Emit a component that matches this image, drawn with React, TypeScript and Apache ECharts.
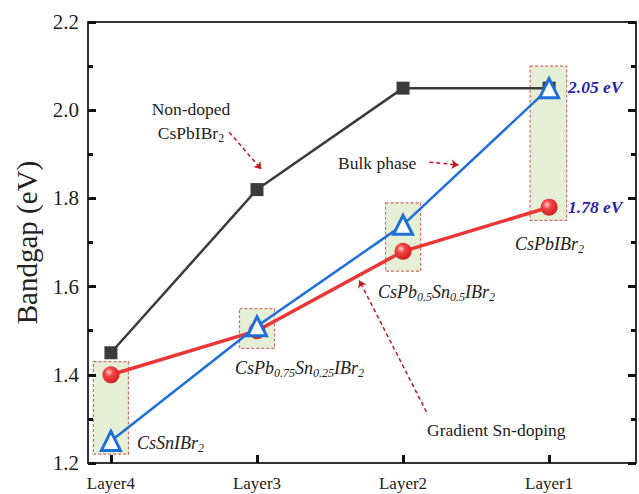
import React, { useEffect, useRef } from "react";
import * as echarts from "echarts";

const layers = ["Layer4", "Layer3", "Layer2", "Layer1"];
const layerPos = [0, 1, 2, 3];
const nonDoped = [1.45, 1.82, 2.05, 2.05];
const gradientDoped = [1.4, 1.5, 1.68, 1.78];
const bulkPhase = [1.25, 1.51, 1.74, 2.05];
const yTicks = [1.2, 1.4, 1.6, 1.8, 2.0, 2.2];

// highlight boxes around doped compositions: [x0, y0, x1, y1] in data units
const boxes = [
  [-0.12, 1.22, 0.12, 1.43],
  [0.88, 1.46, 1.12, 1.55],
  [1.88, 1.635, 2.12, 1.79],
  [2.87, 1.75, 3.12, 2.1],
];
// dashed annotation arrows: [x0, y0, x1, y1] in data units
const arrows = [
  [0.81, 1.95, 1.03, 1.866],
  [2.18, 1.882, 2.38, 1.876],
  [2.16, 1.316, 1.7, 1.614],
];

const SERIF = "Liberation Serif";

export default function App() {
  const ref = useRef<HTMLDivElement>(null);
  useEffect(() => {
    document.body.style.margin = "0";
    const chart = echarts.init(ref.current!, null, { renderer: "svg" });
    const richStyle = {
      a: { fontFamily: SERIF, fontSize: 18, fontStyle: "italic", fill: "#222" },
      s: { fontFamily: SERIF, fontSize: 12, fontStyle: "italic", fill: "#222", padding: [10, 0, 0, 0] },
      n: { fontFamily: SERIF, fontSize: 17.5, fill: "#222" },
      ns: { fontFamily: SERIF, fontSize: 12, fill: "#222", padding: [10, 0, 0, 0] },
    };
    const txt = (x: number, y: number, text: string, align = "left") => ({
      type: "text",
      x,
      y,
      style: { text, align, verticalAlign: "middle", fontFamily: SERIF, fontSize: 17.5, fill: "#222", rich: richStyle },
      z: 100,
    });
    const evStyle = (x: number, y: number, text: string) => ({
      type: "text",
      x,
      y,
      style: {
        text,
        fontFamily: SERIF,
        fontSize: 17.5,
        fontStyle: "italic",
        fontWeight: "bold",
        fill: "#2b22b0",
        verticalAlign: "middle",
      },
      z: 100,
    });
    const commonAxisLine = { show: true, onZero: false, lineStyle: { color: "#333", width: 2 } };
    const tickStyle = { color: "#111", width: 3 };
    const yTick = { show: true, inside: true, length: 8, lineStyle: tickStyle };
    const yMinor = { show: true, splitNumber: 2, length: 5, lineStyle: tickStyle };
    const yRange = { min: yTicks[0], max: yTicks[yTicks.length - 1], interval: 0.2 };
    const option: any = {
      animation: false,
      backgroundColor: "#fff",
      grid: { left: 88, top: 22, right: 3, bottom: 31, containLabel: false, outerBoundsMode: "none" },
      xAxis: [
        {
          type: "value",
          min: -0.157,
          max: 3.595,
          axisLine: commonAxisLine,
          splitLine: { show: false },
          axisTick: { show: true, inside: true, length: 8, lineStyle: tickStyle, customValues: layerPos },
          axisLabel: {
            customValues: layerPos,
            formatter: (v: number) => layers[Math.round(v)] ?? "",
            fontFamily: SERIF,
            fontSize: 17,
            color: "#222",
            margin: 12,
          },
        },
        {
          type: "value",
          position: "top",
          min: -0.157,
          max: 3.595,
          axisLine: commonAxisLine,
          axisTick: { show: false },
          axisLabel: { show: false },
          splitLine: { show: false },
        },
      ],
      yAxis: [
        {
          type: "value",
          position: "left",
          ...yRange,
          name: "Bandgap (eV)",
          nameLocation: "middle",
          nameGap: 44,
          nameTextStyle: { fontFamily: SERIF, fontSize: 29, color: "#222" },
          axisLine: commonAxisLine,
          splitLine: { show: false },
          axisTick: yTick,
          minorTick: yMinor,
          axisLabel: {
            formatter: (v: number) => v.toFixed(1),
            fontFamily: SERIF,
            fontSize: 21,
            color: "#222",
            margin: 9,
          },
          z: 10,
        },
        {
          type: "value",
          position: "right",
          ...yRange,
          axisLine: commonAxisLine,
          splitLine: { show: false },
          axisTick: yTick,
          minorTick: yMinor,
          axisLabel: { show: false },
        },
      ],
      series: [
        {
          type: "line",
          name: "boxes",
          data: [],
          silent: true,
          markArea: {
            silent: true,
            itemStyle: { color: "#e4efd5", borderColor: "#c8706a", borderType: [3, 2], borderWidth: 1.2 },
            data: boxes.map((b) => [{ coord: [b[0], b[3]] }, { coord: [b[2], b[1]] }]),
          },
          markLine: {
            silent: true,
            symbol: ["none", "arrow"],
            symbolSize: 7,
            label: { show: false },
            lineStyle: { color: "#c0181c", type: [4, 3], width: 1.5 },
            data: arrows.map((a) => [{ coord: [a[0], a[1]] }, { coord: [a[2], a[3]] }]),
          },
        },
        {
          type: "line",
          name: "Non-doped CsPbIBr2",
          data: layerPos.map((x, i) => [x, nonDoped[i]]),
          symbol: "rect",
          symbolSize: 13,
          lineStyle: { color: "#3b3b3b", width: 2.5 },
          itemStyle: { color: "#3b3b3b" },
          z: 3,
        },
        {
          type: "line",
          name: "Gradient Sn-doping",
          data: layerPos.map((x, i) => [x, gradientDoped[i]]),
          symbol: "circle",
          symbolSize: 17,
          lineStyle: { color: "#ec3537", width: 3.5 },
          itemStyle: {
            color: {
              type: "radial",
              x: 0.38,
              y: 0.35,
              r: 0.7,
              colorStops: [
                { offset: 0, color: "#ffd0d0" },
                { offset: 0.35, color: "#f24444" },
                { offset: 1, color: "#d01a1c" },
              ],
            },
          },
          z: 4,
        },
        {
          type: "line",
          name: "Bulk phase",
          data: layerPos.map((x, i) => [x, bulkPhase[i]]),
          symbol: "triangle",
          symbolSize: 19,
          lineStyle: { color: "#1f6fd8", width: 2.5 },
          itemStyle: { color: "#ffffff", borderColor: "#1f6fd8", borderWidth: 3 },
          z: 5,
        },
      ],
      graphic: [
        txt(191, 109, "{n|Non-doped}", "center"),
        txt(191, 133, "{n|CsPbIBr}{ns|2}", "center"),
        txt(338, 163, "{n|Bulk phase}"),
        txt(427, 430, "{n|Gradient Sn-doping}"),
        evStyle(568, 87, "2.05 eV"),
        evStyle(568, 207, "1.78 eV"),
        txt(515, 244, "{a|CsPbIBr}{s|2}"),
        txt(378, 292, "{a|CsPb}{s|0.5}{a|Sn}{s|0.5}{a|IBr}{s|2}"),
        txt(235, 368, "{a|CsPb}{s|0.75}{a|Sn}{s|0.25}{a|IBr}{s|2}"),
        txt(137, 443, "{a|CsSnIBr}{s|2}"),
      ],
    };
    chart.setOption(option);
    return () => chart.dispose();
  }, []);
  return <div ref={ref} style={{ width: 639, height: 494 }} />;
}
